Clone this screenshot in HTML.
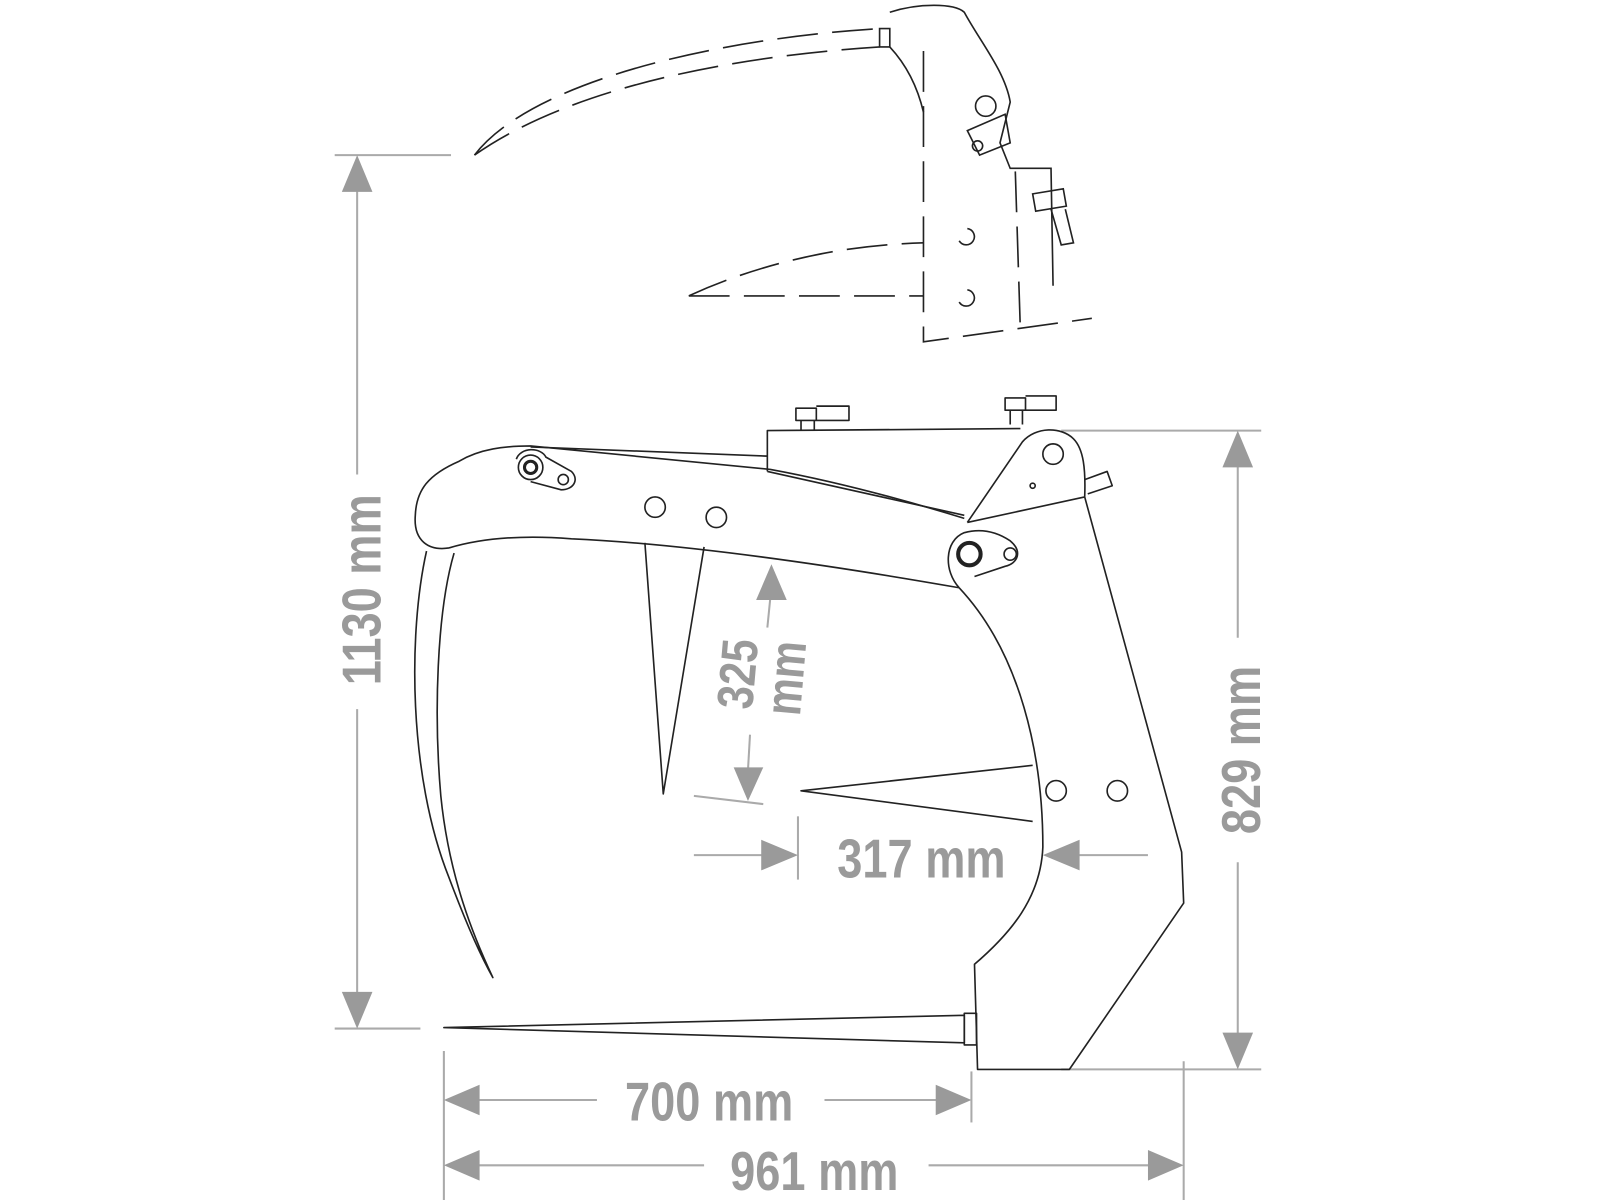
<!DOCTYPE html>
<html><head><style>
html,body{margin:0;padding:0;background:#fff;width:1600px;height:1200px;overflow:hidden}
svg{display:block}
text{font-family:"Liberation Sans",sans-serif;font-weight:bold;fill:#9a9a9a}
</style></head><body>
<svg width="1600" height="1200" viewBox="0 0 1568 1176" preserveAspectRatio="none" xmlns="http://www.w3.org/2000/svg">
<defs>
<marker id="a" viewBox="0 0 10 10" refX="10" refY="5" markerWidth="10" markerHeight="10" markerUnits="userSpaceOnUse" orient="auto"></marker>
</defs>
<g stroke="#aaa" stroke-width="2" fill="none">
<!-- 1130 -->
<line x1="328" y1="152" x2="442" y2="152"/><line x1="328" y1="1008" x2="412" y2="1008"/>
<line x1="350" y1="185" x2="350" y2="465"/><line x1="350" y1="695" x2="350" y2="975"/>
<!-- 829 -->
<line x1="1040" y1="422" x2="1236" y2="422"/><line x1="1040" y1="1048" x2="1236" y2="1048"/>
<line x1="1213" y1="455" x2="1213" y2="625"/><line x1="1213" y1="845" x2="1213" y2="1015"/>
<!-- 325 -->
<line x1="755" y1="585" x2="752" y2="615"/><line x1="735" y1="720" x2="733" y2="755"/>
<line x1="680" y1="780" x2="748" y2="788"/>
<!-- 317 -->
<line x1="680" y1="838" x2="750" y2="838"/><line x1="1055" y1="838" x2="1125" y2="838"/>
<line x1="782" y1="800" x2="782" y2="862"/>
<!-- 700/961 -->
<line x1="435" y1="1030" x2="435" y2="1176"/><line x1="952" y1="1050" x2="952" y2="1100"/><line x1="1160" y1="1040" x2="1160" y2="1176"/>
<line x1="468" y1="1078" x2="585" y2="1078"/><line x1="808" y1="1078" x2="920" y2="1078"/>
<line x1="468" y1="1142" x2="690" y2="1142"/><line x1="910" y1="1142" x2="1128" y2="1142"/>
</g>
<g fill="#9a9a9a">
<polygon points="350,152 335,188 365,188"/><polygon points="350,1008 335,972 365,972"/>
<polygon points="1213,422 1198,458 1228,458"/><polygon points="1213,1048 1198,1012 1228,1012"/>
<polygon points="756,553 741,588 771,588"/><polygon points="733,785 719,752 748,752"/>
<polygon points="782,838 746,823 746,853"/><polygon points="1022,838 1058,823 1058,853"/>
<polygon points="435,1078 470,1063 470,1093"/><polygon points="952,1078 917,1063 917,1093"/>
<polygon points="435,1142 470,1127 470,1157"/><polygon points="1160,1142 1125,1127 1125,1157"/>
</g>
<text x="0" y="0" font-size="54" text-anchor="middle" transform="translate(373,578) rotate(-90) scale(0.82,1)">1130 mm</text>
<text x="0" y="0" font-size="54" text-anchor="middle" transform="translate(1235,735) rotate(-90) scale(0.82,1)">829 mm</text>
<text x="0" y="0" font-size="50" text-anchor="middle" transform="translate(740,662) rotate(-85) scale(0.82,1)">325</text>
<text x="0" y="0" font-size="50" text-anchor="middle" transform="translate(787,666) rotate(-85) scale(0.82,1)">mm</text>
<text x="0" y="0" font-size="54" text-anchor="middle" transform="translate(903,860) scale(0.82,1)">317 mm</text>
<text x="0" y="0" font-size="54" text-anchor="middle" transform="translate(695,1098) scale(0.82,1)">700 mm</text>
<text x="0" y="0" font-size="54" text-anchor="middle" transform="translate(798,1166) scale(0.82,1)">961 mm</text>

<g stroke="#222" stroke-width="1.6" fill="none" stroke-linejoin="round">
<!-- box behind -->
<path d="M520,438 L752,447 M752,462 L752,422 L1000,420 M752,462 L945,505"/>
<!-- arm -->
<path d="M440,537 C420,540 405,530 407,505 C408,480 420,465 450,452 C470,440 495,437 520,437 L755,460 C820,472 880,488 945,508"/>
<path d="M440,537 C470,528 510,524 560,528 C650,532 780,548 940,576"/>
<!-- plate -->
<path d="M948,512 L1002,433 C1015,418 1040,418 1052,430 C1062,440 1064,460 1063,487 L948,512"/>
<circle cx="1032" cy="445" r="10"/><circle cx="1012" cy="476" r="2.5"/>
<!-- pivot -->
<path d="M940,576 C925,560 925,530 945,522 C960,518 975,520 990,530 C1002,540 998,552 985,555 L955,565"/>
<circle cx="950" cy="543" r="11" stroke-width="4"/><circle cx="990" cy="543" r="6"/>
<!-- frame -->
<path d="M1063,487 L1158,835 L1160,885 L1048,1048 L958,1048 L955,945 C990,915 1020,880 1022,830 C1022,740 1000,640 940,576"/>
<!-- knobs -->
<path d="M780,400 L800,400 L800,412 L780,412 Z M800,398 L832,398 L832,412 L800,412 M785,412 L785,422 M798,412 L798,422"/>
<path d="M985,390 L1005,390 L1005,402 L985,402 Z M1005,388 L1035,388 L1035,402 L1005,402 M990,402 L990,416 M1002,402 L1002,416"/>
<path d="M1063,470 L1085,462 L1090,476 L1066,484"/>
<!-- left link -->
<circle cx="520" cy="458" r="12"/><circle cx="520" cy="458" r="6" stroke-width="3"/><circle cx="552" cy="470" r="5"/>
<path d="M506,450 C510,438 530,438 535,448 L560,462 C568,470 562,480 550,480 L520,472"/>
<circle cx="642" cy="497" r="10"/><circle cx="702" cy="507" r="10"/>
<circle cx="1035" cy="775" r="10"/><circle cx="1095" cy="775" r="10"/>
<!-- hook tine -->
<path d="M418,540 C400,620 400,760 440,860 C455,900 470,935 483,958 C465,920 440,860 432,780 C425,700 428,600 445,542"/>
<!-- vertical tine -->
<path d="M632,532 L650,778 L690,536"/>
<!-- mid tine -->
<path d="M1012,750 L785,775 L1012,805"/>
<!-- bottom tine -->
<path d="M435,1007 L945,995 L945,1022 Z"/><rect x="945" y="993" width="12" height="31"/>
</g>
<!-- top dashed -->
<g stroke="#222" stroke-width="1.6" fill="none" stroke-dasharray="40,14">
<path d="M465,152 C520,80 700,38 862,28"/>
<path d="M465,152 C560,85 720,55 862,46"/>
<path d="M905,50 L905,335 L1070,312"/>
<path d="M675,290 L905,290 M675,290 C740,260 820,240 905,238"/>
<path d="M995,168 L1000,325"/>
</g>
<g stroke="#222" stroke-width="1.6" fill="none">
<path d="M862,28 L862,46 L872,46 L872,28 Z"/>
<path d="M872,12 C900,3 935,3 945,12 C960,40 985,70 990,100 L980,140 L990,165 L1030,165 L1032,280"/>
<path d="M872,46 C885,60 898,80 905,110"/>
<circle cx="966" cy="104" r="10"/><circle cx="958" cy="143" r="5"/>
<path d="M948,128 L985,112 L990,140 L960,152 Z"/>
<path d="M1012,190 L1042,185 L1045,202 L1015,207 Z M1030,205 L1040,240 L1052,238 L1044,205"/>
<path d="M948,224 A8,8 0 1,1 940,236 M948,284 A8,8 0 1,1 940,296"/>
</g>
</svg>
</body></html>
